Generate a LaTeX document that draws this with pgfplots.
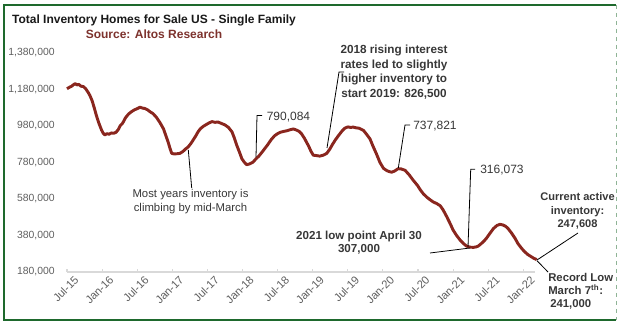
\documentclass[border=0pt]{standalone}
\usepackage{pgfplots}
\pgfplotsset{compat=1.18}
\usepackage{fontspec}
\setmainfont{Liberation Sans}
\definecolor{linered}{RGB}{138,38,30}
\definecolor{srcred}{RGB}{125,50,45}
\definecolor{tickgray}{RGB}{95,95,95}
\definecolor{annot}{RGB}{55,55,55}
\definecolor{frame}{RGB}{30,105,45}
\begin{document}
\begin{tikzpicture}
\path[use as bounding box] (0,0) rectangle (467.25pt,245.25pt);
\begin{axis}[
  at={(50.25pt,41.25pt)}, anchor=south west,
  scale only axis, width=351pt, height=164.25pt,
  xmin=0, xmax=80, ymin=180000, ymax=1380000,
  clip=false,
  axis x line*=bottom, axis y line*=left,
  x axis line style={draw=black!15, line width=1.1pt},
  y axis line style={draw=none},
  xtick={0,6,...,78},
  xticklabels={Jul-15,Jan-16,Jul-16,Jan-17,Jul-17,Jan-18,Jul-18,Jan-19,Jul-19,Jan-20,Jul-20,Jan-21,Jul-21,Jan-22},
  ytick={180000,380000,...,1380000},
  scaled y ticks=false,
  xtick style={draw=black!15, line width=0.8pt},
  ytick style={draw=none},
  major tick length=2.5pt,
  tick align=inside,
  tick label style={color=tickgray, font=\fontsize{7.8}{9}\selectfont},
  yticklabel style={/pgf/number format/fixed, /pgf/number format/1000 sep={,}, /pgf/number format/precision=0, /pgf/number format/assume math mode=true, anchor=east, inner sep=0pt, xshift=-9pt},
  xticklabel style={font=\fontsize{8.4}{9}\selectfont, rotate=45, anchor=north east, inner sep=0pt, yshift=-5pt, xshift=2pt},
]
\addplot[linered, line width=2.2pt, line join=round] coordinates {
(0,1184000)(0.4,1192000)(0.8,1198000)(1.1,1206000)(1.4,1212000)(1.7,1205000)(2.0,1208000)(2.4,1198000)(2.8,1196000)(3.2,1184000)(3.6,1165000)(3.9,1148000)(4.3,1118000)(4.7,1075000)(5.0,1040000)(5.4,1000000)(5.9,958000)(6.2,940000)(6.5,931000)(6.8,938000)(7.2,935000)(7.6,942000)(8.0,940000)(8.4,946000)(8.8,962000)(9.1,982000)(9.5,995000)(10.0,1025000)(10.5,1045000)(11.0,1058000)(11.5,1068000)(12.0,1075000)(12.5,1083000)(12.9,1078000)(13.3,1076000)(13.8,1068000)(14.2,1058000)(14.7,1048000)(15.3,1027000)(15.9,998000)(16.5,964000)(17.0,918000)(17.3,891000)(17.6,858000)(17.9,830000)(18.3,827000)(18.8,828000)(19.3,830000)(19.8,840000)(20.3,855000)(20.7,865000)(21.2,885000)(21.6,905000)(22.0,925000)(22.4,948000)(22.8,965000)(23.3,978000)(23.8,988000)(24.3,997000)(24.8,1004000)(25.3,1000000)(25.8,1002000)(26.4,994000)(27.0,986000)(27.6,972000)(28.2,948000)(28.6,915000)(29.0,876000)(29.5,835000)(29.9,800000)(30.3,782000)(30.7,768000)(31.2,772000)(31.8,782000)(32.3,800000)(32.8,815000)(33.3,835000)(33.8,856000)(34.3,877000)(34.9,905000)(35.5,927000)(36.0,938000)(36.5,946000)(37.0,950000)(37.6,954000)(38.2,960000)(38.7,964000)(39.2,958000)(39.7,950000)(40.1,937000)(40.6,912000)(41.0,888000)(41.3,870000)(41.7,842000)(42.1,820000)(42.6,818000)(43.2,815000)(43.8,820000)(44.4,830000)(44.9,852000)(45.4,880000)(45.9,905000)(46.4,927000)(47.0,952000)(47.5,968000)(48.0,975000)(48.5,972000)(48.9,974000)(49.4,970000)(49.9,968000)(50.3,962000)(50.7,955000)(51.2,935000)(51.8,909000)(52.3,870000)(52.9,827000)(53.5,780000)(54.1,748000)(54.7,735000)(55.1,730000)(55.5,727000)(56.0,733000)(56.6,746000)(57.1,745000)(57.8,737000)(58.5,712000)(59.2,682000)(59.9,655000)(60.4,630000)(60.9,609000)(61.5,590000)(62.1,575000)(62.6,564000)(63.2,555000)(63.8,543000)(64.3,520000)(64.9,484000)(65.5,445000)(66.0,410000)(66.6,380000)(67.2,355000)(67.8,335000)(68.3,322000)(68.9,316000)(69.5,315000)(70.0,318000)(70.3,322000)(70.9,338000)(71.3,350000)(71.7,365000)(72.3,392000)(72.9,418000)(73.5,435000)(74.0,441000)(74.5,438000)(75.0,430000)(75.4,418000)(76.0,393000)(76.6,364000)(77.1,335000)(77.7,310000)(78.2,292000)(78.8,275000)(79.3,265000)(79.8,255000)(80.3,248000)
};
\end{axis}
\begin{scope}[x=0.75pt, y=-0.75pt, shift={(0,245.25pt)}]
% frame
\draw[frame, line width=0.9pt] (616,320) -- (4,320) -- (4,5) -- (616,5);
\draw[frame!50, line width=0.6pt, dashed] (616,5) -- (616,320);
% titles
\node[anchor=base, inner sep=0pt, font=\bfseries\fontsize{9}{11}\selectfont, text=black!90] at (154,24) {Total Inventory Homes for Sale US - Single Family};
\node[anchor=base, inner sep=0pt, font=\bfseries\fontsize{9}{11}\selectfont, text=srcred] at (154,38.3) {Source: Altos Research};
% leaders
\begin{scope}[line width=0.6pt, black]
\draw (344,72) -- (339,72) -- (327,148);
\draw (262,115.5) -- (257,115.5) -- (256,157);
\draw (410,125) -- (405,125) -- (398.3,168);
\draw (475,169.3) -- (470.7,169.3) -- (468,247);
\draw (188.3,150) -- (191.7,188);
\draw (430,253) -- (470,248);
\draw (578,233) -- (537,260);
\draw (548,272) -- (537,260.7);
\end{scope}
% annotations (base anchor = baseline of last line)
\node[align=center, inner sep=0pt, font=\bfseries\fontsize{8.8}{10.9}\selectfont, text=annot, anchor=base] at (394,97.5) {2018 rising interest\\rates led to slightly\\higher inventory to\\start 2019: 826,500};
\node[anchor=west, inner sep=0pt, font=\fontsize{9}{11}\selectfont, text=annot] at (266.5,117.5) {790,084};
\node[anchor=west, inner sep=0pt, font=\fontsize{9}{11}\selectfont, text=annot] at (413,126) {737,821};
\node[anchor=west, inner sep=0pt, font=\fontsize{9}{11}\selectfont, text=annot] at (480,170) {316,073};
\node[align=center, inner sep=0pt, font=\fontsize{8.5}{10.5}\selectfont, text=annot, anchor=base] at (190.5,211.5) {Most years inventory is\\climbing by mid-March};
\node[align=center, inner sep=0pt, font=\bfseries\fontsize{8.7}{10.2}\selectfont, text=annot, anchor=base] at (359,253) {2021 low point April 30\\307,000};
\node[align=center, inner sep=0pt, font=\bfseries\fontsize{8.3}{10.1}\selectfont, text=annot, anchor=base] at (577.5,227.5) {Current active\\inventory:\\247,608};
\node[align=left, inner sep=0pt, font=\bfseries\fontsize{8.5}{10.1}\selectfont, text=annot, anchor=base west] at (548,308) {Record Low\\March 7\textsuperscript{th}:\\\hspace*{1.5pt}241,000};
\end{scope}
\end{tikzpicture}
\end{document}
